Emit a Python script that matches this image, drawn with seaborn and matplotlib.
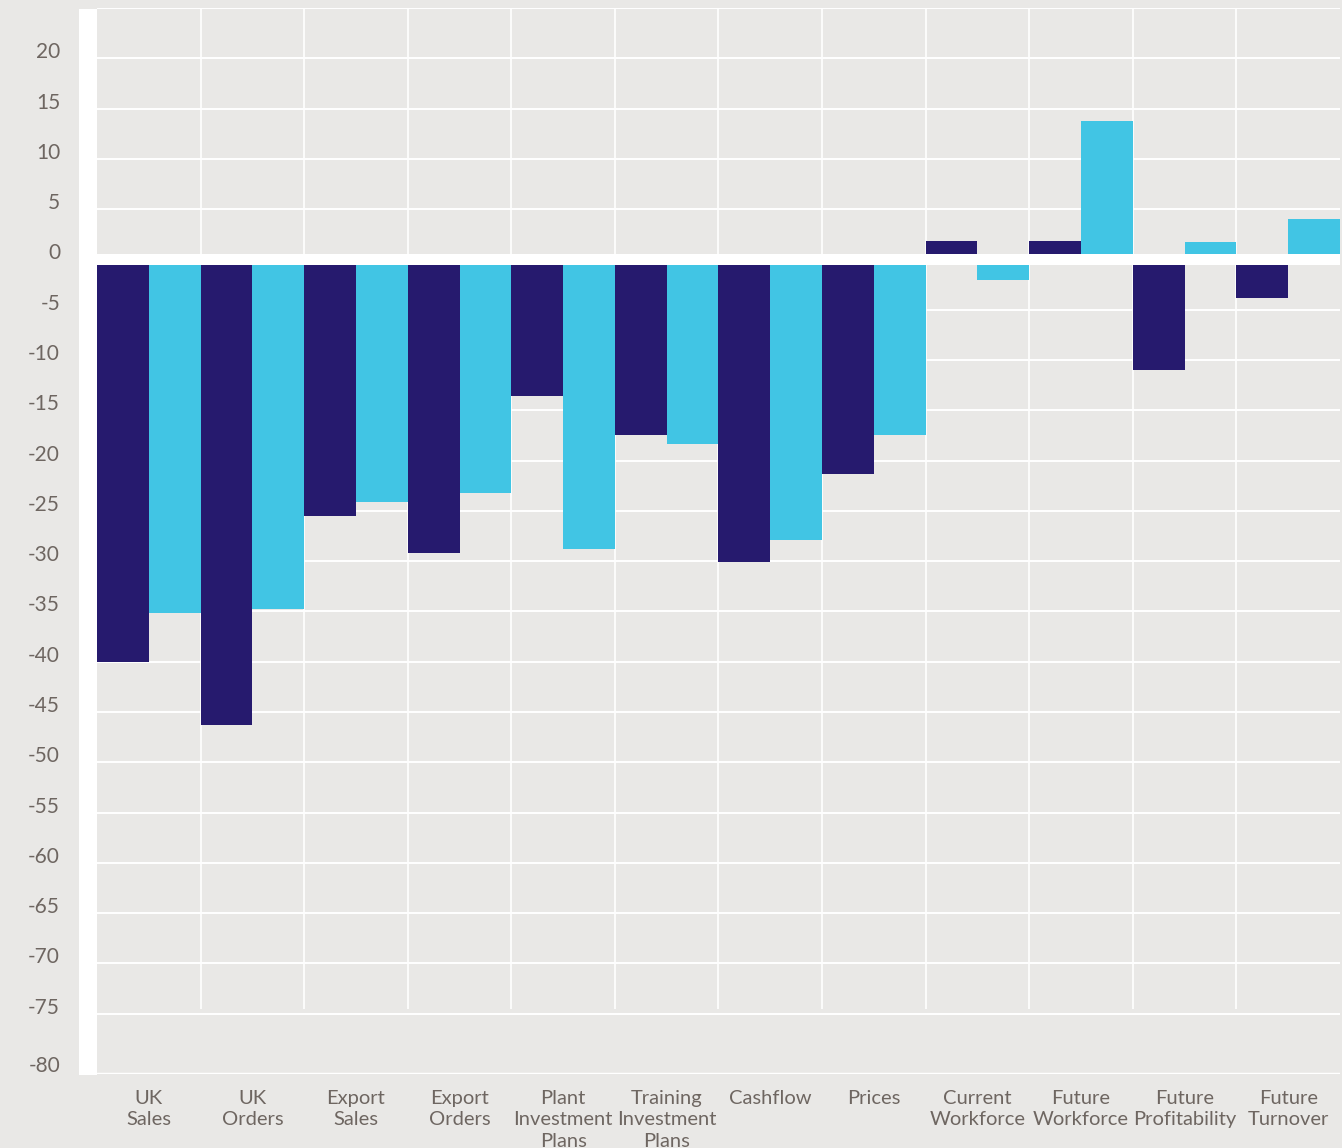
import numpy as np
import pandas as pd
import matplotlib
matplotlib.use("Agg")
import matplotlib.pyplot as plt
import matplotlib.transforms as mtransforms
from matplotlib.patches import Rectangle
import seaborn as sns

# -----------------------------
# Data
# -----------------------------
categories = ["UK\nSales", "UK\nOrders", "Export\nSales", "Export\nOrders",
              "Plant\nInvestment\nPlans", "Training\nInvestment\nPlans", "Cashflow",
              "Prices", "Current\nWorkforce", "Future\nWorkforce",
              "Future\nProfitability", "Future\nTurnover"]
series_names = ["Series 1", "Series 2"]
dark_values = [-40.0, -46.3, -25.5, -29.2, -13.6, -17.5, -30.1, -21.3, 1.8, 1.8, -11.0, -3.8]
light_values = [-35.2, -34.8, -24.1, -23.2, -28.8, -18.4, -27.9, -17.5, -2.0, 13.8, 1.7, 4.0]
y_ticks = list(range(-80, 30, 5))
y_tick_labels = [str(t) if t != 25 else "" for t in y_ticks]

BG = "#e9e8e6"
DARK = "#261a6e"
LIGHT = "#41c5e4"
TEXT = "#6e6661"

df = pd.DataFrame({
    "category": categories * 2,
    "series": [series_names[0]] * len(categories) + [series_names[1]] * len(categories),
    "value": dark_values + light_values,
})

# -----------------------------
# Figure
# -----------------------------
sns.set_style("white")
plt.rcParams["font.family"] = ["Lato", "DejaVu Sans"]

W, H = 1342, 1148
fig = plt.figure(figsize=(W / 100, H / 100), dpi=100, facecolor=BG)
ax = fig.add_axes([97 / W, 1 - 1074 / H, (1340 - 97) / W, (1074 - 8) / H])
ax.set_facecolor(BG)

# gridlines behind the bars (the lowest one runs along the bottom edge)
for t in y_ticks[1:]:
    ax.axhline(t, color="white", linewidth=1.4, zorder=0)
ax.axhline(-81, color="white", linewidth=2.5, zorder=0)
ax.vlines(np.arange(0.5, len(categories) - 1, 1), -74.5, 25, color="white", linewidth=1.2, zorder=0)

sns.barplot(data=df, x="category", y="value", hue="series", order=categories,
            hue_order=series_names, palette=[DARK, LIGHT], width=1.0, gap=0,
            saturation=1, legend=False, ax=ax, zorder=2, linewidth=0)

# thick white zero band
ax.axhspan(-0.55, 0.55, color="white", zorder=3, linewidth=0)

ax.set_xlim(-0.5, len(categories) - 0.5)
ax.set_ylim(-81, 25)
ax.set_yticks(y_ticks)
ax.set_yticklabels(y_tick_labels)
ax.set_xlabel("")
ax.set_ylabel("")
for s in ax.spines.values():
    s.set_visible(False)

ax.tick_params(axis="y", length=0, pad=26.6, labelsize=15, labelcolor=TEXT)
ax.tick_params(axis="x", length=0, pad=11.5, labelsize=14.5, labelcolor=TEXT)
for lab in ax.get_xticklabels():
    lab.set_linespacing(1.32)

# y labels sit a bit above their gridlines
offset = mtransforms.ScaledTranslation(0, 0.08, fig.dpi_scale_trans)
for lab in ax.get_yticklabels()[1:]:
    lab.set_transform(lab.get_transform() + offset)

# white strip to the left of the plot area
fig.patches.append(Rectangle((79 / W, 1 - 1075 / H), 18 / W, (1075 - 9) / H,
                             transform=fig.transFigure, facecolor="white",
                             edgecolor="none", zorder=5))

fig.savefig("out.png", dpi=100, facecolor=BG)
